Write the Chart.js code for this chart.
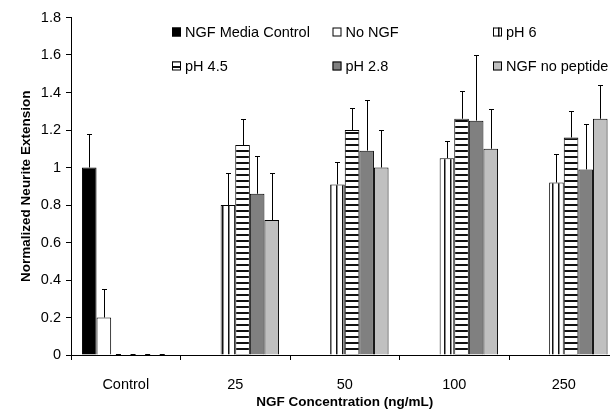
<!DOCTYPE html>
<html>
<head>
<meta charset="utf-8">
<script src="https://cdn.jsdelivr.net/npm/chart.js@4"></script>
<style>
html,body{margin:0;padding:0;background:#fff;overflow:hidden;width:610px;height:410px;}
canvas{display:block;}
</style>
</head>
<body>
<canvas id="c" width="640" height="410"></canvas>
<script>
// ---- data ----
const categories = ['Control', '25', '50', '100', '250'];
const seriesNames = ['NGF Media Control', 'No NGF', 'pH 6', 'pH 4.5', 'pH 2.8', 'NGF no peptide'];
const mediaControl = [1.00, null, null, null, null];
const mediaControlErr = [0.18, null, null, null, null];
const noNGF = [0.20, null, null, null, null];
const noNGFErr = [0.15, null, null, null, null];
const pH6 = [0, 0.80, 0.91, 1.05, 0.92];
const pH6Err = [0, 0.17, 0.12, 0.09, 0.15];
const pH45 = [0, 1.12, 1.20, 1.26, 1.16];
const pH45Err = [0, 0.14, 0.12, 0.15, 0.14];
const pH28 = [0, 0.86, 1.09, 1.25, 0.99];
const pH28Err = [0, 0.20, 0.27, 0.35, 0.24];
const noPeptide = [0, 0.72, 1.00, 1.10, 1.26];
const noPeptideErr = [0, 0.25, 0.20, 0.21, 0.18];
const yMin = 0, yMax = 1.8, yStep = 0.2;

const FONT = "'Liberation Sans', Arial, sans-serif";

function makePattern(kind) {
  const p = document.createElement('canvas');
  const g = p.getContext('2d');
  p.width = 6; p.height = 6;
  g.fillStyle = '#fff'; g.fillRect(0, 0, 6, 6);
  g.fillStyle = '#111';
  if (kind === 'v') g.fillRect(0, 0, 1.5, 6);
  else g.fillRect(0, 0, 6, 2);
  return document.getElementById('c').getContext('2d').createPattern(p, 'repeat');
}

const fills = ['#000000', '#ffffff', makePattern('v'), makePattern('h'), '#808080', '#c0c0c0'];
const values = [mediaControl, noNGF, pH6, pH45, pH28, noPeptide];
const errors = [mediaControlErr, noNGFErr, pH6Err, pH45Err, pH28Err, noPeptideErr];

const datasets = seriesNames.map((name, i) => ({
  label: name,
  data: values[i],
  errors: errors[i],
  backgroundColor: fills[i],
  borderColor: '#000',
  borderWidth: 1,
  categoryPercentage: 0.8,
  barPercentage: 1.0
}));

const errorBars = {
  id: 'errorBars',
  afterDatasetsDraw(chart) {
    const ctx = chart.ctx;
    const ys = chart.scales.y;
    ctx.save();
    ctx.strokeStyle = '#000';
    ctx.lineWidth = 1;
    chart.data.datasets.forEach((ds, di) => {
      const meta = chart.getDatasetMeta(di);
      meta.data.forEach((bar, j) => {
        const v = ds.data[j], e = ds.errors[j];
        if (v == null) return;
        if (v === 0) {
          // zero-height bar: short dash on the baseline as in the original
          const y = Math.round(ys.getPixelForValue(0)) - 0.5;
          ctx.beginPath();
          ctx.moveTo(bar.x - 2.5, y);
          ctx.lineTo(bar.x + 2.5, y);
          ctx.stroke();
          return;
        }
        if (!e) return;
        const x = Math.round(bar.x) + 0.5;
        const y0 = ys.getPixelForValue(v);
        const y1 = Math.round(ys.getPixelForValue(v + e)) + 0.5;
        ctx.beginPath();
        ctx.moveTo(x, y0);
        ctx.lineTo(x, y1);
        ctx.moveTo(x - 2.5, y1);
        ctx.lineTo(x + 2.5, y1);
        ctx.stroke();
      });
    });
    ctx.restore();
  }
};

const gridLegend = {
  id: 'gridLegend',
  afterDraw(chart) {
    const ctx = chart.ctx;
    const cols = [172, 332.5, 493];
    const rows = [32, 66];
    ctx.save();
    ctx.font = '14.5px ' + FONT;
    ctx.textBaseline = 'middle';
    ctx.textAlign = 'left';
    chart.data.datasets.forEach((ds, i) => {
      const x = cols[i % 3], y = rows[Math.floor(i / 3)];
      ctx.fillStyle = ds.backgroundColor;
      ctx.fillRect(x, y - 4.5, 9, 9);
      ctx.strokeStyle = '#000';
      ctx.lineWidth = 1;
      ctx.strokeRect(x + 0.5, y - 4, 8, 8);
      ctx.fillStyle = '#000';
      ctx.fillText(ds.label, x + 13, y + 0.5);
    });
    ctx.restore();
  }
};

new Chart(document.getElementById('c'), {
  type: 'bar',
  data: { labels: categories, datasets },
  plugins: [errorBars, gridLegend],
  options: {
    responsive: false,
    animation: false,
    devicePixelRatio: 1,
    layout: { padding: { top: 17.5, right: 21.5, left: 0, bottom: 0 } },
    plugins: { legend: { display: false }, tooltip: { enabled: false } },
    scales: {
      x: {
        offset: true,
        grid: { offset: true, drawOnChartArea: false, tickLength: 5, color: '#000', tickColor: '#000' },
        border: { color: '#000', width: 1 },
        ticks: { color: '#000', font: { family: FONT, size: 14.5 }, padding: 16, maxRotation: 0 },
        title: { display: true, text: 'NGF Concentration (ng/mL)', color: '#000', font: { family: FONT, size: 13.5, weight: 'bold' }, padding: { top: 0, bottom: 0 } },
        afterFit(s) { s.height = 55; }
      },
      y: {
        min: yMin, max: yMax,
        grid: { drawOnChartArea: false, tickLength: 5, color: '#000', tickColor: '#000' },
        border: { color: '#000', width: 1 },
        ticks: { stepSize: yStep, color: '#000', font: { family: FONT, size: 14.5 }, padding: 5,
                 callback: v => String(+v.toFixed(1)) },
        title: { display: true, text: 'Normalized Neurite Extension', color: '#000', font: { family: FONT, size: 13.5, weight: 'bold' }, padding: { top: 18, bottom: 0 } },
        afterFit(s) { s.width = 71; }
      }
    }
  }
});
</script>
</body>
</html>
